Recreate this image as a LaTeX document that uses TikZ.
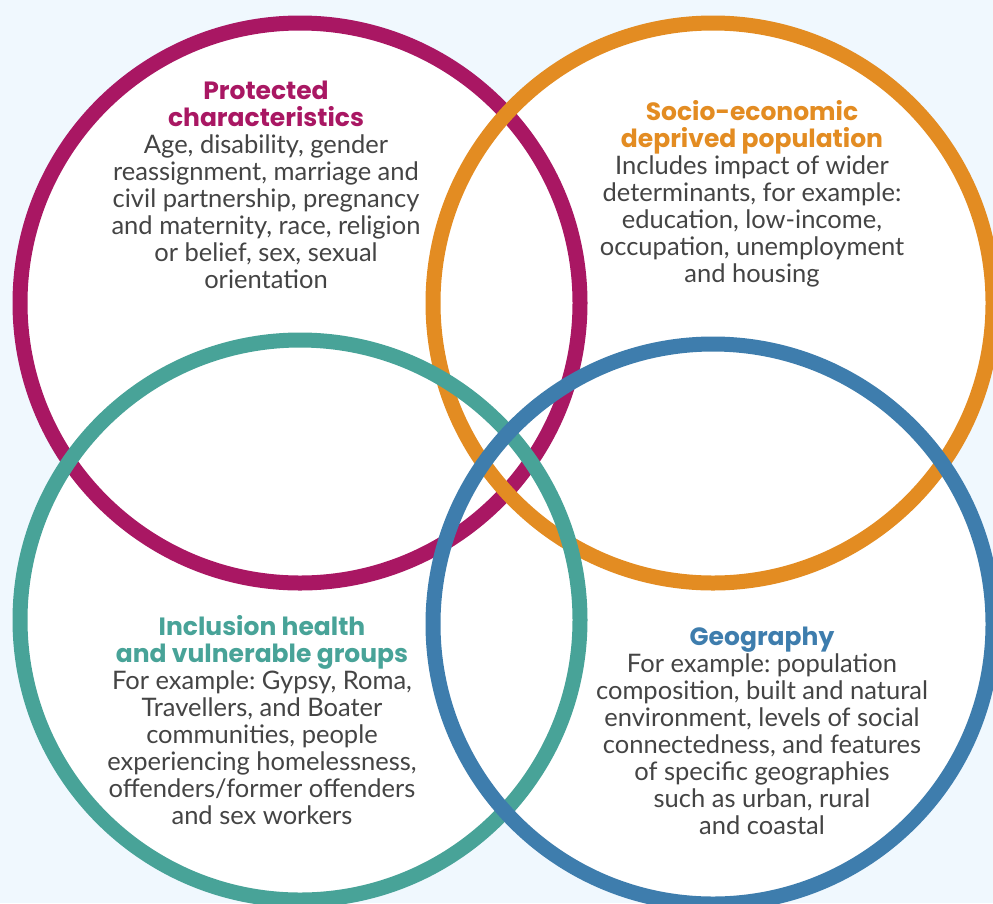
\documentclass[tikz,border=0pt]{standalone}
\usepackage{fontspec}
\newfontfamily\headfont{Poppins}
\newfontfamily\bodyfont{Lato}
\definecolor{paleBg}{HTML}{F0F8FE}
\definecolor{ringMag}{HTML}{A91763}
\definecolor{ringOra}{HTML}{E38C22}
\definecolor{ringTeal}{HTML}{48A398}
\definecolor{ringBlue}{HTML}{3E7DAD}
\definecolor{bodyGray}{HTML}{444444}
\frenchspacing
\newcommand\hd[2]{\textcolor{#1}{\headfont\bfseries\fontsize{25}{27}\selectfont #2}}
\tikzset{
  ring/.style={line width=15pt},
  bodytext/.style={align=center, text=bodyGray, inner sep=0pt, anchor=north,
    font=\bodyfont\fontsize{25.5}{27}\selectfont},
}
\begin{document}
\begin{tikzpicture}[x=1pt,y=-1pt]
  \useasboundingbox (0,0) rectangle (993,903);
  \fill[paleBg] (0,0) rectangle (993,903);
  % circle centres
  \coordinate (cM) at (300,303);
  \coordinate (cO) at (713,303);
  \coordinate (cT) at (300,620);
  \coordinate (cB) at (713,624);
  % white interiors
  \foreach \c in {cM,cO,cT,cB} \fill[white] (\c) circle[radius=280];
  % rings, later ones on top
  \draw[ring, ringMag]  (cM) circle[radius=280];
  \draw[ring, ringOra]  (cO) circle[radius=280];
  \draw[ring, ringTeal] (cT) circle[radius=280];
  \draw[ring, ringBlue] (cB) circle[radius=280];
  % texts
  \node[bodytext] (tM) at (266,81) {\hd{ringMag}{Protected}\\
    \hd{ringMag}{characteristics}\\
    Age, disability, gender\\
    reassignment, marriage and\\
    civil partnership, pregnancy\\
    and maternity, race, religion\\
    or belief, sex, sexual\\
    orientation};
  \node[bodytext] (tO) at (752,100) {\hd{ringOra}{Socio-economic}\\
    \hd{ringOra}{deprived population}\\
    Includes impact of wider\\
    determinants, for example:\\
    education, low-income,\\
    occupation, unemployment\\
    and housing};
  \node[bodytext] (tT) at (262,615) {\hd{ringTeal}{Inclusion health}\\
    \hd{ringTeal}{and vulnerable groups}\\
    For example: Gypsy, Roma,\\
    Travellers, and Boater\\
    communities, people\\
    experiencing homelessness,\\
    offenders/former offenders\\
    and sex workers};
  \node[bodytext] (tB) at (762,627) {\hd{ringBlue}{Geography}\\
    For example: population\\
    composition, built and natural\\
    environment, levels of social\\
    connectedness, and features\\
    of specific geographies\\
    such as urban, rural\\
    and coastal};
\end{tikzpicture}
\end{document}
